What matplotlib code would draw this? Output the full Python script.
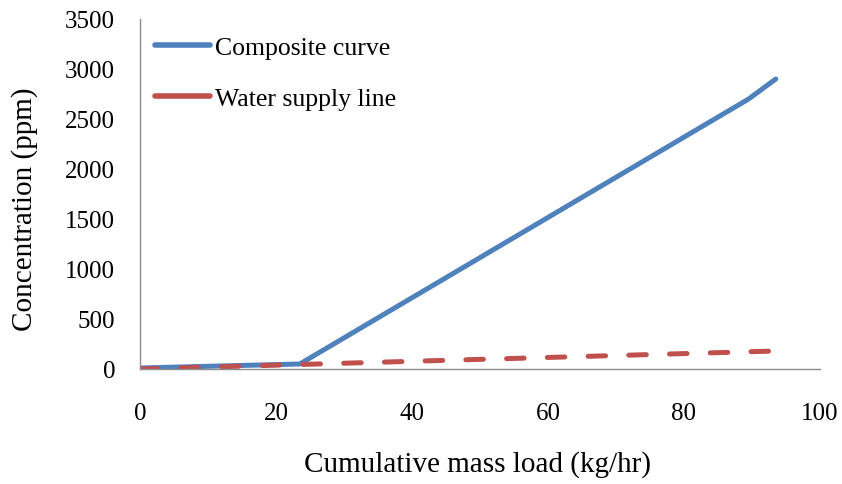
import matplotlib
matplotlib.use("Agg")
import matplotlib.pyplot as plt

plt.rcParams['font.family'] = ['Liberation Serif', 'DejaVu Serif']

composite_x = [0, 23.5, 89.5, 93.5]
composite_y = [10, 50, 2700, 2900]
supply_x = [0, 93.5]
supply_y = [0, 180]
xticks = [0, 20, 40, 60, 80, 100]
yticks = [0, 500, 1000, 1500, 2000, 2500, 3000, 3500]

W, H = 842, 485
fig = plt.figure(figsize=(W/100, H/100), dpi=100)
ax = fig.add_axes([140/W, 1-370/H, 680/W, 350/H])

ax.plot(composite_x, composite_y, color='#4F81BD', lw=3.6, solid_capstyle='round',
        solid_joinstyle='round', label='Composite curve')
ax.plot(supply_x, supply_y, color='#C0504D', lw=3.6, dash_capstyle='round',
        dashes=(3.5, 4.65), label='Water supply line')

ax.set_xlim(0, 100)
ax.set_ylim(0, 3500)
ax.set_xticks(xticks)
ax.set_yticks(yticks)
ax.tick_params(length=0, labelsize=18)
ax.tick_params(axis='y', pad=18)
ax.tick_params(axis='x', pad=24)
for s in ['top', 'right']:
    ax.spines[s].set_visible(False)
for s in ['left', 'bottom']:
    ax.spines[s].set_color('#8C8C8C')
    ax.spines[s].set_linewidth(1.0)

fig.text(477/W, 1-465/H, 'Cumulative mass load (kg/hr)', fontsize=21,
         ha='center', va='center')
fig.text(25/W, 1-209/H, 'Concentration (ppm)', fontsize=21, rotation=90,
         ha='center', va='center')

leg = ax.legend(loc='upper left', frameon=False, fontsize=18.5, handlelength=2.15,
                handletextpad=0.2, labelspacing=1.1, borderpad=0, borderaxespad=0,
                bbox_to_anchor=(15/680, (370-37)/350))
for h in leg.get_lines():
    h.set_linestyle('-')
    h.set_solid_capstyle('round')
    h.set_linewidth(4.0)

fig.savefig('out.png', dpi=100)
